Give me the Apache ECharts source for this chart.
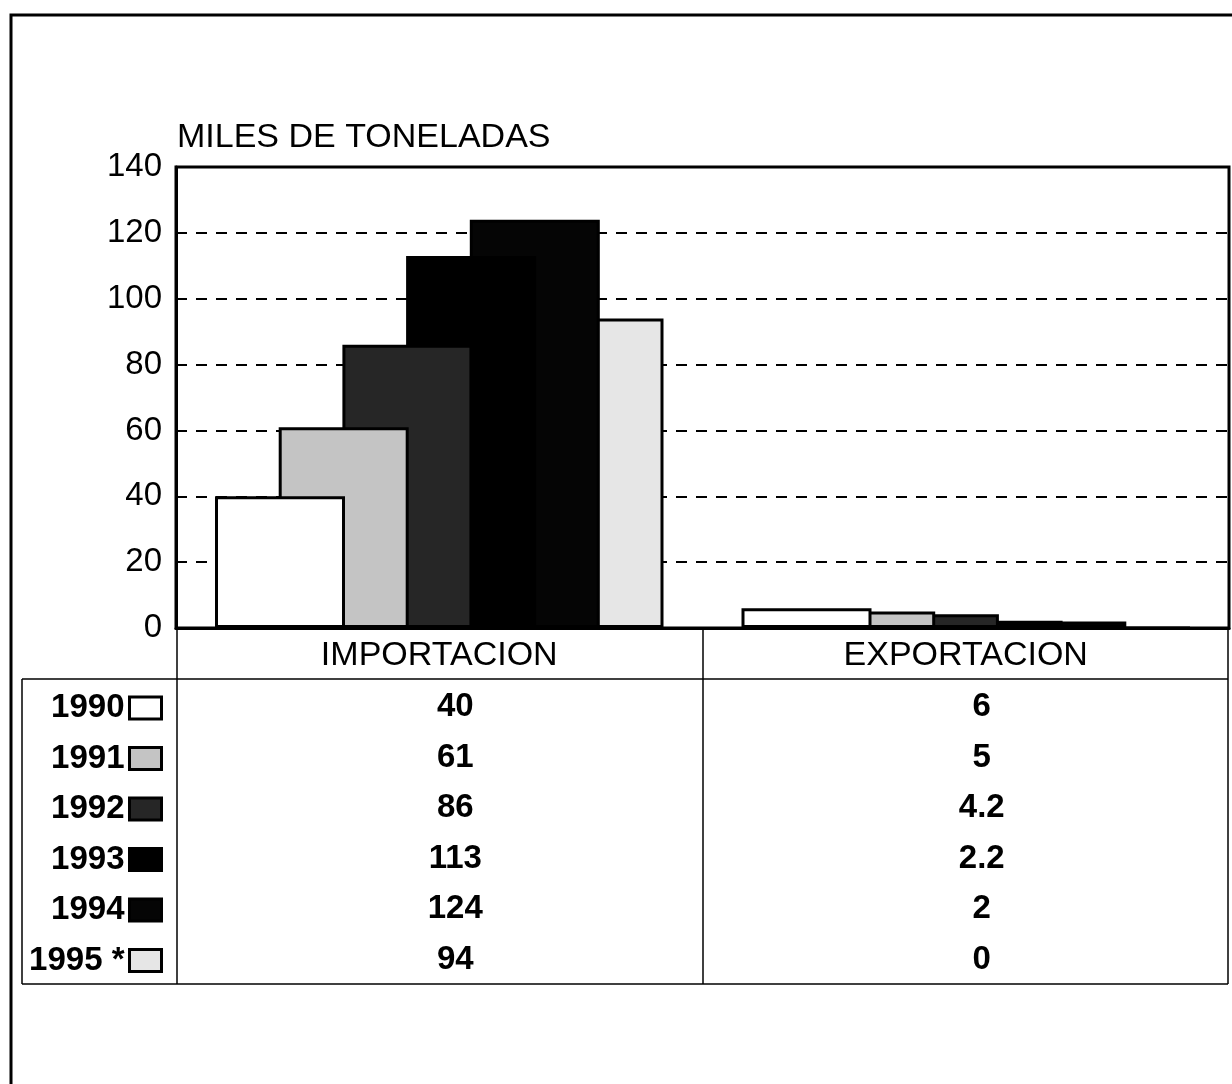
<!DOCTYPE html>
<html>
<head>
<meta charset="utf-8">
<script src="https://cdn.jsdelivr.net/npm/echarts@6/dist/echarts.min.js"></script>
<style>
  html, body { margin: 0; padding: 0; background: #fff; }
  #chart { width: 1232px; height: 1084px; }
</style>
</head>
<body>
<div id="chart"></div>
<script>
// datos
const categories = ['IMPORTACION', 'EXPORTACION']
const years = ['1990', '1991', '1992', '1993', '1994', '1995 *']
const importacion = [40, 61, 86, 113, 124, 94]
const exportacion = [6, 5, 4.2, 2.2, 2, 0]
const yTicks = [0, 20, 40, 60, 80, 100, 120, 140]

const fills = ['#ffffff', '#c4c4c4', '#262626', '#000000', '#050505', '#e6e6e6']
const font = '"Liberation Sans", Arial, sans-serif'

const chart = echarts.init(document.getElementById('chart'))

const series = years.map((y, i) => ({
  name: y,
  type: 'bar',
  z: 10 - i, // el primer año queda delante
  barWidth: 130,
  barGap: '-51%',
  itemStyle: { color: fills[i], borderColor: '#000', borderWidth: 3 },
  data: [importacion[i], exportacion[i]]
}))

// tabla de datos debajo del eje
const tableLabel = (value, idx) => {
  const col = idx === 0 ? importacion : exportacion
  return ['{h|' + value + '}'].concat(col.map(v => '{v|' + v + '}')).join('\n')
}

const line = (x1, y1, x2, y2, w) => ({
  type: 'line',
  shape: { x1, y1, x2, y2 },
  style: { stroke: '#000', lineWidth: w || 1.5 }
})

chart.setOption({
  animation: false,
  textStyle: { fontFamily: font },
  title: {
    text: 'MILES DE TONELADAS',
    left: 177,
    top: 121,
    padding: 0,
    textStyle: { fontSize: 34, fontWeight: 'normal', color: '#000', fontFamily: font }
  },
  legend: {
    orient: 'vertical',
    right: 1064,
    top: 686,
    align: 'right',
    icon: 'rect',
    itemWidth: 32,
    itemHeight: 22,
    itemGap: 16.5,
    selectedMode: false,
    itemStyle: { borderColor: '#000', borderWidth: 3 },
    textStyle: { fontSize: 33, fontWeight: 'bold', lineHeight: 34, color: '#000', fontFamily: font },
    data: years
  },
  grid: {
    left: 176,
    right: 3,
    top: 167,
    bottom: 456,
    show: true,
    borderColor: '#000',
    borderWidth: 3
  },
  xAxis: {
    type: 'category',
    data: categories,
    axisLine: { lineStyle: { color: '#000', width: 3 } },
    axisTick: { show: false },
    axisLabel: {
      margin: 2,
      interval: 0,
      formatter: tableLabel,
      rich: {
        h: { fontSize: 34, lineHeight: 52, color: '#000', fontFamily: font },
        v: { fontSize: 33, lineHeight: 50.5, color: '#000', fontWeight: 'bold', fontFamily: font, padding: [0, 0, 0, 32] }
      }
    }
  },
  yAxis: {
    type: 'value',
    min: yTicks[0],
    max: yTicks[yTicks.length - 1],
    interval: 20,
    axisLine: { show: true, lineStyle: { color: '#000', width: 3 } },
    axisTick: { show: false },
    axisLabel: { fontSize: 33, color: '#000', margin: 14, fontFamily: font },
    splitLine: { lineStyle: { color: '#000', width: 2, type: [11, 9] } }
  },
  graphic: [
    { type: 'rect', shape: { x: 11, y: 15, width: 1300, height: 1200 }, style: { fill: 'none', stroke: '#000', lineWidth: 3 } },
    line(22, 679, 1228, 679),
    line(22, 984, 1228, 984),
    line(22, 679, 22, 984),
    line(177, 628, 177, 984),
    line(703, 628, 703, 984),
    line(1228, 628, 1228, 984)
  ],
  series
})
</script>
</body>
</html>
